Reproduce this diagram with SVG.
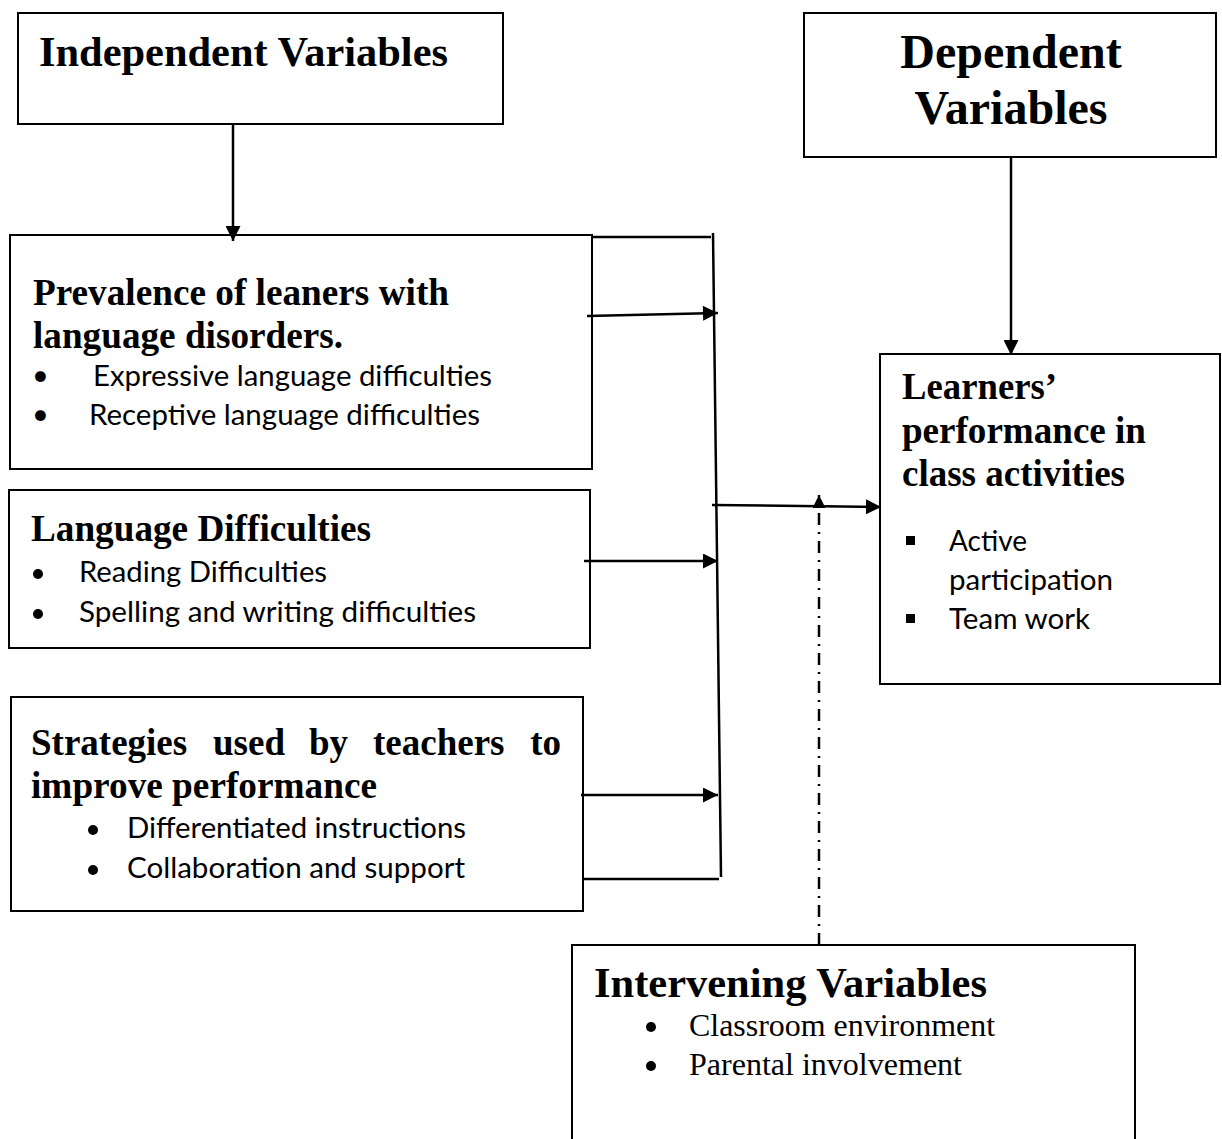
<svg xmlns="http://www.w3.org/2000/svg" width="1222" height="1139" viewBox="0 0 1222 1139">
<style>
.box{fill:#fff;stroke:#000;stroke-width:2}
.t{font-family:"Liberation Serif","Times New Roman",serif;font-weight:bold;fill:#000}
.r{font-family:"Liberation Serif","Times New Roman",serif;fill:#000}
.s{font-family:Lato,"Open Sans",sans-serif;font-size:29px;fill:#000}
.ln{fill:none;stroke:#000;stroke-width:2.5}
.dd{fill:none;stroke:#000;stroke-width:2.5;stroke-dasharray:12 7 2 7}
</style>
<defs>
<marker id="ah" viewBox="0 0 10 10" refX="10" refY="5" markerWidth="16" markerHeight="15" markerUnits="userSpaceOnUse" orient="auto">
<path d="M0,0 L10,5 L0,10 Z" fill="#000"/>
</marker>
<marker id="ahs" viewBox="0 0 10 10" refX="10" refY="5" markerWidth="13" markerHeight="13" markerUnits="userSpaceOnUse" orient="auto">
<path d="M0,0 L10,5 L0,10 Z" fill="#000"/>
</marker>
</defs>
<rect width="1222" height="1139" fill="#fff"/>

<g id="independent">
<rect class="box" x="18" y="13" width="485" height="111"/>
<text class="t" x="39" y="66" font-size="42" textLength="409" lengthAdjust="spacingAndGlyphs">Independent Variables</text>
</g>

<g id="dependent">
<rect class="box" x="804" y="13" width="412" height="144"/>
<text class="t" x="1011" y="68" font-size="48" text-anchor="middle">Dependent</text>
<text class="t" x="1011" y="124" font-size="48" text-anchor="middle">Variables</text>
</g>

<g id="prevalence">
<rect class="box" x="10" y="235" width="582" height="234"/>
<text class="t" x="33" y="305" font-size="37" textLength="416" lengthAdjust="spacingAndGlyphs">Prevalence of leaners with</text>
<text class="t" x="33" y="348" font-size="37" textLength="310" lengthAdjust="spacingAndGlyphs">language disorders.</text>
<text class="s" x="32" y="385" font-size="26">•</text>
<text class="s" x="93" y="386" textLength="399" lengthAdjust="spacingAndGlyphs">Expressive language difficulties</text>
<text class="s" x="32" y="424" font-size="26">•</text>
<text class="s" x="89" y="425" textLength="391" lengthAdjust="spacingAndGlyphs">Receptive language difficulties</text>
</g>

<g id="language">
<rect class="box" x="9" y="490" width="581" height="158"/>
<text class="t" x="31" y="541" font-size="37" textLength="340" lengthAdjust="spacingAndGlyphs">Language Difficulties</text>
<circle cx="38" cy="574" r="5"/>
<text class="s" x="79" y="582" textLength="248" lengthAdjust="spacingAndGlyphs">Reading Difficulties</text>
<circle cx="38" cy="614" r="5"/>
<text class="s" x="79" y="622" textLength="397" lengthAdjust="spacingAndGlyphs">Spelling and writing difficulties</text>
</g>

<g id="strategies">
<rect class="box" x="11" y="697" width="572" height="214"/>
<text class="t" x="31" y="755" font-size="37">Strategies</text>
<text class="t" x="213" y="755" font-size="37">used</text>
<text class="t" x="309" y="755" font-size="37">by</text>
<text class="t" x="373" y="755" font-size="37">teachers</text>
<text class="t" x="561" y="755" font-size="37" text-anchor="end">to</text>
<text class="t" x="31" y="798" font-size="37" textLength="346" lengthAdjust="spacingAndGlyphs">improve performance</text>
<circle cx="93" cy="830" r="5"/>
<text class="s" x="127" y="838" textLength="339" lengthAdjust="spacingAndGlyphs">Differentiated instructions</text>
<circle cx="93" cy="870" r="5"/>
<text class="s" x="127" y="878" textLength="338" lengthAdjust="spacingAndGlyphs">Collaboration and support</text>
</g>

<g id="learners">
<rect class="box" x="880" y="354" width="340" height="330"/>
<text class="t" x="902" y="399" font-size="37" textLength="155" lengthAdjust="spacingAndGlyphs">Learners’</text>
<text class="t" x="902" y="443" font-size="37" textLength="244" lengthAdjust="spacingAndGlyphs">performance in</text>
<text class="t" x="902" y="486" font-size="37" textLength="223" lengthAdjust="spacingAndGlyphs">class activities</text>
<rect x="906" y="536" width="9" height="9"/>
<text class="s" x="949" y="551" textLength="78" lengthAdjust="spacingAndGlyphs">Active</text>
<text class="s" x="949" y="590" textLength="164" lengthAdjust="spacingAndGlyphs">participation</text>
<rect x="906" y="614" width="9" height="9"/>
<text class="s" x="949" y="629" textLength="141" lengthAdjust="spacingAndGlyphs">Team work</text>
</g>

<g id="intervening">
<path class="box" d="M572,1139 V945 H1135 V1139"/>
<text class="t" x="594" y="997" font-size="42" textLength="393" lengthAdjust="spacingAndGlyphs">Intervening Variables</text>
<circle cx="651" cy="1027" r="5"/>
<text class="r" x="689" y="1036" font-size="32" textLength="306" lengthAdjust="spacingAndGlyphs">Classroom environment</text>
<circle cx="651" cy="1066" r="5"/>
<text class="r" x="689" y="1075" font-size="32" textLength="273" lengthAdjust="spacingAndGlyphs">Parental involvement</text>
</g>

<g id="connectors">
<line class="ln" x1="233" y1="124" x2="233" y2="241" marker-end="url(#ah)"/>
<line class="ln" x1="1011" y1="157" x2="1011" y2="355" marker-end="url(#ah)"/>
<line class="ln" x1="592" y1="237" x2="711" y2="237"/>
<line class="ln" x1="713" y1="233" x2="721" y2="877"/>
<line class="ln" x1="587" y1="316" x2="718" y2="313" marker-end="url(#ah)"/>
<line class="ln" x1="584" y1="561" x2="718" y2="561" marker-end="url(#ah)"/>
<line class="ln" x1="581" y1="795" x2="718" y2="795" marker-end="url(#ah)"/>
<line class="ln" x1="583" y1="879" x2="719" y2="879"/>
<line class="ln" x1="712" y1="505" x2="881" y2="507" marker-end="url(#ah)"/>
<line class="dd" x1="819" y1="945" x2="819" y2="495" marker-end="url(#ahs)"/>
</g>
</svg>
